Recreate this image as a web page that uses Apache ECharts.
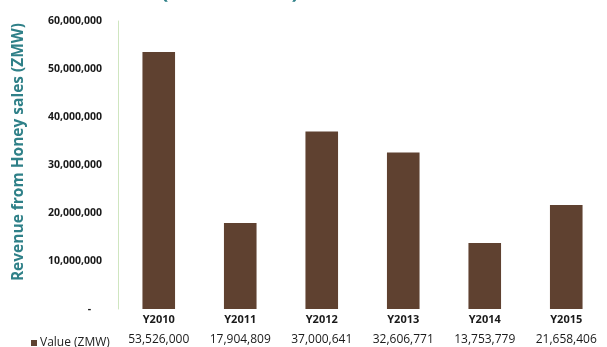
<!DOCTYPE html>
<html>
<head>
<meta charset="utf-8">
<script src="https://cdn.jsdelivr.net/npm/echarts@6/dist/echarts.min.js"></script>
<style>
  html, body { margin: 0; padding: 0; background: #ffffff; }
  #chart { width: 607px; height: 347px; }
</style>
</head>
<body>
<div id="chart"></div>
<script>
// Honey sales revenue per year, in Zambian kwacha
const years = ['Y2010', 'Y2011', 'Y2012', 'Y2013', 'Y2014', 'Y2015'];
const revenue = [53526000, 17904809, 37000641, 32606771, 13753779, 21658406];
const seriesName = 'Value (ZMW)';
const yTicks = { min: 0, max: 60000000, step: 10000000 };

const teal = '#2f8088';
const brown = '#5f4130';
const fmt = v => Number(v).toLocaleString('en-US');

const chart = echarts.init(document.getElementById('chart'), null, { renderer: 'canvas' });
chart.setOption({
  animation: false,
  backgroundColor: '#ffffff',
  textStyle: { fontFamily: 'Open Sans' },
  title: {
    text: '(2010 \u2013 2015)',
    left: 156,
    top: -24,
    textStyle: { color: teal, fontSize: 22, fontWeight: 'bold', fontFamily: 'Open Sans' }
  },
  legend: {
    data: [seriesName],
    left: 26,
    top: 332,
    icon: 'rect',
    itemWidth: 6,
    itemHeight: 6,
    itemGap: 4,
    textStyle: { color: '#222', fontSize: 12, padding: [0, 0, 0, -2] }
  },
  grid: { left: 118, right: -8, top: 21, bottom: 38, containLabel: false },
  xAxis: [
    {
      type: 'category',
      data: years,
      axisLine: { show: false },
      axisTick: { show: false },
      axisLabel: { color: '#1a1a1a', fontSize: 11, fontWeight: 'bold', margin: 5 }
    },
    {
      type: 'category',
      data: revenue.map(fmt),
      position: 'bottom',
      axisLine: { show: false },
      axisTick: { show: false },
      axisLabel: { color: '#1a1a1a', fontSize: 12, margin: 25 }
    }
  ],
  yAxis: {
    type: 'value',
    min: yTicks.min,
    max: yTicks.max,
    interval: yTicks.step,
    name: 'Revenue from Honey sales (ZMW)',
    nameLocation: 'middle',
    nameGap: 91,
    nameTextStyle: { color: teal, fontSize: 15.5, fontWeight: 'bold', padding: [0, 0, 0, 26] },
    axisLine: { show: true, lineStyle: { color: '#cfe6c0', width: 1 } },
    axisTick: { show: false },
    splitLine: { show: false },
    axisLabel: {
      color: '#1a1a1a',
      fontSize: 10.5,
      fontWeight: 'bold',
      margin: 16,
      formatter: v => (v === 0 ? '-    ' : fmt(v))
    }
  },
  series: [
    {
      name: seriesName,
      type: 'bar',
      data: revenue,
      xAxisIndex: 0,
      barWidth: '40%',
      itemStyle: { color: brown }
    }
  ]
});
</script>
</body>
</html>
